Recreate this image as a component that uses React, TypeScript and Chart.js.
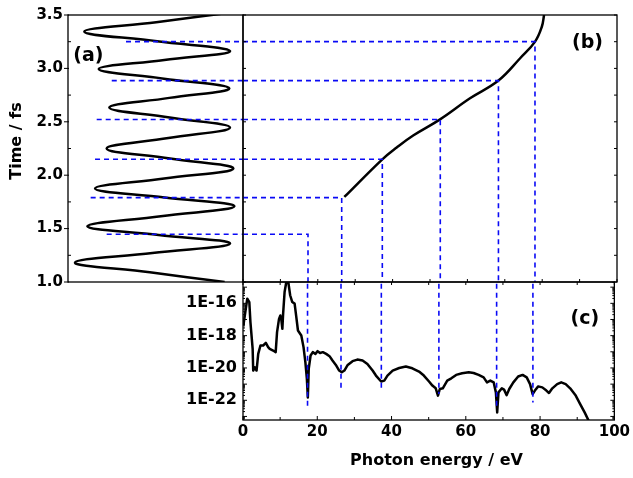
import React, { useEffect, useRef } from 'react';
import { Chart, registerables } from 'chart.js';

Chart.register(...registerables);

const FONT_FAMILY = "'DejaVu Sans', 'Liberation Sans', Arial, sans-serif";
const INK = '#000000';
const BLUE = 'rgb(10, 10, 245)';

// ---------- panel (a): driving field (horizontal) vs time (vertical) ----------
const fieldTimes = [1.0, 1.091, 1.182, 1.271, 1.36, 1.441, 1.522, 1.616, 1.709, 1.792, 1.875, 1.969, 2.062, 2.156, 2.249, 2.348, 2.446, 2.54, 2.633, 2.724, 2.814, 2.904, 2.994, 3.079, 3.163, 3.254, 3.344, 3.432, 3.52];
const fieldValues = [0.79, -0.065, -0.92, -0.035, 0.851, 0.036, -0.779, 0.061, 0.901, 0.105, -0.691, 0.099, 0.889, 0.166, -0.558, 0.147, 0.851, 0.162, -0.528, 0.158, 0.843, 0.097, -0.649, 0.101, 0.851, 0.019, -0.814, 0.008, 0.83];

// ---------- panel (b): emission time vs photon energy ----------
const cutoffEnergies = [27.09, 37.25, 41.1, 45.5, 52.7, 60.7, 68.3, 74.1, 78.1, 79.9, 80.5];
const cutoffTimes = [1.796, 2.149, 2.26, 2.372, 2.523, 2.72, 2.886, 3.095, 3.251, 3.39, 3.5];

// ---------- dashed guide lines ----------
const markTimes = [1.447, 1.79, 2.149, 2.521, 2.886, 3.251];
const markEnergies = [17.38, 26.39, 37.25, 52.75, 68.3, 78.07];
const markFieldStarts = [-0.558, -0.741, -0.691, -0.672, -0.5, -0.337];
const markSpectrumEndsLog = [-22.34, -21.3, -21.3, -21.61, -22.42, -22.13];

// ---------- panel (c): spectrum (log10 of intensity) ----------
const specEnergies = [0.1, 1.15, 1.7, 2.0, 2.6, 2.75, 3.2, 3.65, 4.1, 4.7, 5.43, 6.15, 6.77, 7.2, 8.1, 8.8, 9.17, 9.7, 10.06, 10.3, 10.6, 10.8, 11.2, 11.66, 11.95, 12.2, 12.7, 13.27, 13.9, 14.3, 14.8, 15.7, 16.3, 16.8, 17.2, 17.46, 17.7, 18.2, 18.8, 19.5, 20.1, 20.75, 21.5, 22.4, 23.3, 24.1, 25.0, 25.9, 26.6, 27.3, 28.2, 29.5, 30.8, 32.2, 33.5, 34.9, 35.8, 37.2, 38.05, 38.9, 40.3, 42.06, 43.85, 45.6, 47.4, 48.7, 50.1, 51.0, 51.9, 52.5, 53.0, 53.8, 55.0, 56.1, 57.4, 59.0, 60.8, 62.1, 63.45, 64.8, 65.7, 66.6, 67.5, 68.1, 68.45, 68.8, 69.7, 70.3, 71.0, 71.7, 72.8, 74.1, 75.3, 76.4, 77.3, 78.0, 78.6, 79.5, 80.6, 81.7, 82.4, 83.3, 84.6, 85.7, 86.9, 88.1, 89.6, 90.8, 92.0, 93.1];
const specLog = [-17.37, -15.71, -15.92, -17.16, -18.82, -20.16, -19.96, -20.16, -19.13, -18.61, -18.61, -18.45, -18.71, -18.82, -18.92, -19.02, -17.78, -16.96, -16.75, -16.96, -17.58, -16.65, -15.3, -14.68, -14.55, -14.68, -15.5, -15.92, -16.02, -16.75, -17.68, -17.99, -18.71, -19.65, -20.68, -21.82, -20.06, -19.23, -19.02, -19.13, -18.96, -19.07, -19.02, -19.13, -19.27, -19.54, -19.81, -20.16, -20.27, -20.16, -19.81, -19.58, -19.48, -19.54, -19.75, -20.16, -20.47, -20.84, -20.78, -20.47, -20.16, -20.0, -19.91, -20.02, -20.22, -20.47, -20.84, -21.09, -21.26, -21.71, -21.3, -21.26, -20.78, -20.64, -20.43, -20.33, -20.27, -20.31, -20.43, -20.58, -20.89, -20.78, -20.89, -21.51, -22.75, -21.51, -21.26, -21.34, -21.68, -21.3, -20.89, -20.53, -20.43, -20.58, -21.0, -21.62, -21.4, -21.14, -21.2, -21.4, -21.55, -21.26, -21.0, -20.89, -21.0, -21.26, -21.71, -22.24, -22.75, -23.27];

// ---------- axes ----------
const timeRange = [1.0, 3.5];
const fieldRange = [-1, 1];
const energyRange = [0, 100];
const spectrumLogRange = [-23.22, -14.68];
const timeLabelTicks = [1.0, 1.5, 2.0, 2.5, 3.0, 3.5];
const timeMinorTicks = [1.25, 1.75, 2.25, 2.75, 3.25];
const energyLabelTicks = [0, 20, 40, 60, 80, 100];
const energyMinorTicks = [10, 30, 50, 70, 90];
const spectrumLabelExponents = [-16, -18, -20, -22];
const spectrumDecades = [-24, -23, -22, -21, -20, -19, -18, -17, -16, -15];
const decadeMultipliers = [2, 3, 4, 5, 6, 7, 8, 9];

const pow10 = (e: number) => Math.pow(10, e);

type Side = 'left' | 'right' | 'top' | 'bottom';
type TickSpec = { scaleId: string; side: Side; values: number[]; inLen: number; outLen: number };

function ticksPlugin(specs: TickSpec[]) {
  return {
    id: 'frameAndTicks',
    afterDatasetsDraw(chart: any) {
      const { ctx, chartArea: a } = chart;
      ctx.save();
      ctx.strokeStyle = INK;
      ctx.lineWidth = 1;
      ctx.beginPath();
      for (const s of specs) {
        const sc = chart.scales[s.scaleId];
        for (const v of s.values) {
          const p = sc.getPixelForValue(v);
          if (s.side === 'left') { ctx.moveTo(a.left - s.outLen, p); ctx.lineTo(a.left + s.inLen, p); }
          if (s.side === 'right') { ctx.moveTo(a.right + s.outLen, p); ctx.lineTo(a.right - s.inLen, p); }
          if (s.side === 'top') { ctx.moveTo(p, a.top - s.outLen); ctx.lineTo(p, a.top + s.inLen); }
          if (s.side === 'bottom') { ctx.moveTo(p, a.bottom + s.outLen); ctx.lineTo(p, a.bottom - s.inLen); }
        }
      }
      ctx.stroke();
      ctx.lineWidth = 1.3;
      ctx.strokeRect(a.left, a.top, a.right - a.left, a.bottom - a.top);
      ctx.restore();
    },
  };
}

type TextItem = { text: string; x: number; y: number; align: CanvasTextAlign; font: string; rotate?: boolean };

function textPlugin(items: TextItem[]) {
  return {
    id: 'panelText',
    afterDraw(chart: any) {
      const { ctx } = chart;
      const xs = chart.scales.x;
      const ys = chart.scales.y;
      ctx.save();
      ctx.fillStyle = INK;
      for (const it of items) {
        const px = xs.getPixelForValue(it.x);
        const py = ys.getPixelForValue(it.y);
        ctx.font = it.font;
        ctx.textAlign = it.align;
        ctx.textBaseline = 'middle';
        if (it.rotate) {
          ctx.save();
          ctx.translate(px, py);
          ctx.rotate(-Math.PI / 2);
          ctx.fillText(it.text, 0, 0);
          ctx.restore();
        } else {
          ctx.fillText(it.text, px, py);
        }
      }
      ctx.restore();
    },
  };
}

const baseOptions = {
  animation: false as const,
  responsive: false,
  maintainAspectRatio: false,
  events: [] as any[],
  plugins: { legend: { display: false }, tooltip: { enabled: false } },
};

const hiddenGrid = { display: false, drawTicks: false, tickLength: 0 };

const allTimeTicks = [...timeLabelTicks, ...timeMinorTicks];
const allEnergyMinor = [...energyMinorTicks];
const logMinorTicks: number[] = [];
spectrumDecades.forEach((d) => decadeMultipliers.forEach((m) => logMinorTicks.push(m * pow10(d))));
const logMajorTicks = spectrumDecades.map((d) => pow10(d));

export default function App() {
  const refA = useRef<HTMLCanvasElement>(null);
  const refB = useRef<HTMLCanvasElement>(null);
  const refC = useRef<HTMLCanvasElement>(null);

  useEffect(() => {
    const dashStyle = { borderColor: BLUE, borderWidth: 1.6, borderDash: [5, 4], pointRadius: 0, fill: false, tension: 0 };

    // ---------------- Chart A ----------------
    const chartA = new Chart(refA.current as HTMLCanvasElement, {
      type: 'line',
      data: {
        datasets: [
          ...markTimes.map((t, i) => ({
            ...dashStyle,
            data: [{ x: markFieldStarts[i], y: t }, { x: fieldRange[1], y: t }],
          })),
          {
            data: fieldTimes.map((t, i) => ({ x: fieldValues[i], y: t })),
            borderColor: INK,
            borderWidth: 2.5,
            pointRadius: 0,
            fill: false,
            tension: 0.42,
            capBezierPoints: false,
          },
        ] as any,
      },
      options: {
        ...baseOptions,
        layout: { padding: { left: 0, top: 15, right: 390, bottom: 196 } },
        scales: {
          x: { type: 'linear', min: fieldRange[0], max: fieldRange[1], display: false },
          y: {
            type: 'linear',
            position: 'left',
            min: timeRange[0],
            max: timeRange[1],
            grid: hiddenGrid,
            border: { display: false },
            ticks: {
              color: INK,
              padding: 5,
              font: { family: FONT_FAMILY, size: 15, weight: 'bold' },
              callback: (v: any) => Number(v).toFixed(1),
            },
            afterBuildTicks: (s: any) => { s.ticks = timeLabelTicks.map((v) => ({ value: v })); },
            afterFit: (s: any) => { s.width = 68; },
          },
        },
      } as any,
      plugins: [
        ticksPlugin([
          { scaleId: 'y', side: 'left', values: timeLabelTicks, inLen: 1, outLen: 4 },
          { scaleId: 'y', side: 'left', values: timeMinorTicks, inLen: 3, outLen: 0 },
        ]),
        textPlugin([
          { text: '(a)', x: -0.939, y: 3.116, align: 'left', font: `bold 19px ${FONT_FAMILY}` },
          { text: 'Time / fs', x: -1.583, y: 2.32, align: 'center', font: `bold 16px ${FONT_FAMILY}`, rotate: true },
        ]),
      ],
    });

    // ---------------- Chart B ----------------
    const chartB = new Chart(refB.current as HTMLCanvasElement, {
      type: 'line',
      data: {
        datasets: [
          ...markTimes.map((t, i) => ({
            ...dashStyle,
            data: [{ x: energyRange[0], y: t }, { x: markEnergies[i], y: t }, { x: markEnergies[i], y: timeRange[0] }],
          })),
          {
            data: cutoffEnergies.map((e, i) => ({ x: e, y: cutoffTimes[i] })),
            borderColor: INK,
            borderWidth: 2.5,
            pointRadius: 0,
            fill: false,
            tension: 0.4,
            capBezierPoints: false,
          },
        ] as any,
      },
      options: {
        ...baseOptions,
        layout: { padding: { left: 243, top: 15, right: 16, bottom: 196 } },
        scales: {
          x: { type: 'linear', min: energyRange[0], max: energyRange[1], display: false },
          y: { type: 'linear', min: timeRange[0], max: timeRange[1], display: false },
        },
      } as any,
      plugins: [
        ticksPlugin([
          { scaleId: 'y', side: 'left', values: allTimeTicks, inLen: 3, outLen: 0 },
          { scaleId: 'y', side: 'right', values: allTimeTicks, inLen: 3, outLen: 0 },
          { scaleId: 'x', side: 'bottom', values: [...energyLabelTicks, ...allEnergyMinor], inLen: 3, outLen: 0 },
        ]),
        textPlugin([
          { text: '(b)', x: 96.26, y: 3.238, align: 'right', font: `bold 19px ${FONT_FAMILY}` },
        ]),
      ],
    });

    // ---------------- Chart C ----------------
    const chartC = new Chart(refC.current as HTMLCanvasElement, {
      type: 'line',
      data: {
        datasets: [
          ...markEnergies.map((e, i) => ({
            ...dashStyle,
            data: [{ x: e, y: pow10(spectrumLogRange[1] + 1) }, { x: e, y: pow10(markSpectrumEndsLog[i]) }],
          })),
          {
            data: specEnergies.map((e, i) => ({ x: e, y: pow10(specLog[i]) })),
            borderColor: INK,
            borderWidth: 2.5,
            borderJoinStyle: 'round',
            pointRadius: 0,
            fill: false,
            tension: 0,
          },
        ] as any,
      },
      options: {
        ...baseOptions,
        layout: { padding: { left: 0, top: 282, right: 16, bottom: 0 } },
        scales: {
          x: {
            type: 'linear',
            position: 'bottom',
            min: energyRange[0],
            max: energyRange[1],
            grid: hiddenGrid,
            border: { display: false },
            ticks: {
              color: INK,
              padding: 3,
              autoSkip: false,
              maxRotation: 0,
              font: { family: FONT_FAMILY, size: 15, weight: 'bold' },
              callback: (v: any) => String(v),
            },
            afterBuildTicks: (s: any) => { s.ticks = energyLabelTicks.map((v) => ({ value: v })); },
            afterFit: (s: any) => { s.height = 58; },
          },
          y: {
            type: 'logarithmic',
            position: 'left',
            min: pow10(spectrumLogRange[0]),
            max: pow10(spectrumLogRange[1]),
            grid: hiddenGrid,
            border: { display: false },
            ticks: {
              color: INK,
              padding: 6,
              autoSkip: false,
              font: { family: FONT_FAMILY, size: 16, weight: 'bold' },
              callback: (v: any) => '1E' + Math.round(Math.log10(Number(v))),
            },
            afterBuildTicks: (s: any) => { s.ticks = spectrumLabelExponents.map((e) => ({ value: pow10(e) })); },
            afterFit: (s: any) => { s.width = 243; },
          },
        },
      } as any,
      plugins: [
        ticksPlugin([
          { scaleId: 'x', side: 'top', values: [...energyLabelTicks, ...allEnergyMinor], inLen: 3, outLen: 0 },
          { scaleId: 'x', side: 'bottom', values: energyLabelTicks, inLen: 4, outLen: 0 },
          { scaleId: 'x', side: 'bottom', values: allEnergyMinor, inLen: 3, outLen: 0 },
          { scaleId: 'y', side: 'left', values: logMinorTicks, inLen: 2, outLen: 0 },
          { scaleId: 'y', side: 'left', values: logMajorTicks, inLen: 4, outLen: 0 },
          { scaleId: 'y', side: 'right', values: logMinorTicks, inLen: 2, outLen: 0 },
          { scaleId: 'y', side: 'right', values: logMajorTicks, inLen: 4, outLen: 0 },
        ].map((s) => ({ ...s, values: s.scaleId === 'y' ? s.values.filter((v) => v >= pow10(spectrumLogRange[0]) && v <= pow10(spectrumLogRange[1])) : s.values })) as TickSpec[]),
        textPlugin([
          { text: '(c)', x: 95.9, y: pow10(-17.0), align: 'right', font: `bold 19px ${FONT_FAMILY}` },
          { text: 'Photon energy / eV', x: 52.1, y: pow10(-25.75), align: 'center', font: `bold 16px ${FONT_FAMILY}` },
        ]),
      ],
    });

    return () => {
      chartA.destroy();
      chartB.destroy();
      chartC.destroy();
    };
  }, []);

  const canvasStyle: React.CSSProperties = { position: 'absolute', left: 0, top: 0, width: 633, height: 478 };
  return (
    <div style={{ position: 'absolute', left: 0, top: 0, width: 633, height: 478, background: '#ffffff', overflow: 'hidden' }}>
      <canvas ref={refA} width={633} height={478} style={canvasStyle} />
      <canvas ref={refB} width={633} height={478} style={canvasStyle} />
      <canvas ref={refC} width={633} height={478} style={canvasStyle} />
    </div>
  );
}
